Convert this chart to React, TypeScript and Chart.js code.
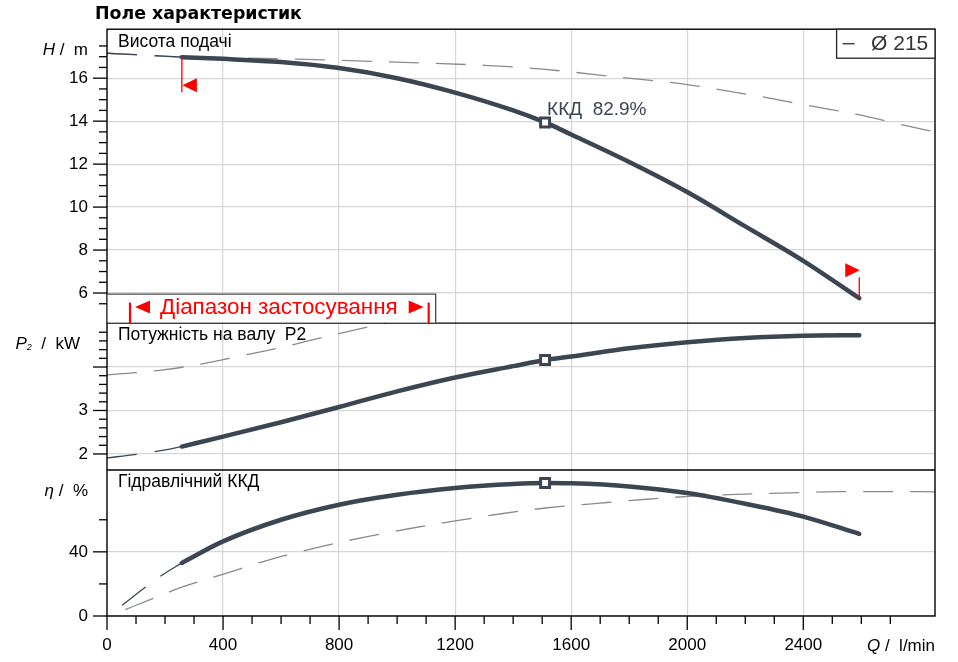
import React, { useEffect, useRef } from 'react';
import { Chart, registerables } from 'chart.js';

Chart.register(...registerables);

const FONT = '"Liberation Sans", Arial, Helvetica, sans-serif';
const TITLE_FONT = '"DejaVu Sans", Verdana, sans-serif';
const CURVE = '#3b4652';
const DASH_GRAY = '#8a8a8a';
const GRID = '#d6d6d6';
const RED = '#ff0000';

// ---- main operating curve (thick) ----
const Q_MAIN = [258, 400, 600, 800, 1000, 1200, 1400, 1510, 1600, 1800, 2000, 2200, 2400, 2593];
const H_MAIN = [16.98, 16.9, 16.75, 16.47, 16.0, 15.33, 14.5, 13.94, 13.38, 12.1, 10.7, 9.1, 7.5, 5.76];
const P_MAIN = [2.17, 2.4, 2.73, 3.08, 3.44, 3.76, 4.02, 4.16, 4.24, 4.43, 4.57, 4.67, 4.72, 4.73];
const ETA_MAIN = [33.1, 46.5, 60.0, 69.4, 75.6, 79.8, 82.3, 82.9, 82.7, 80.8, 76.7, 70.0, 62.0, 51.2];

// ---- thin extensions of the main curve at low flow ----
const Q_H_EXT = [0, 130, 258];
const H_EXT = [17.16, 17.08, 16.98];
const Q_P_EXT = [0, 100, 180, 258];
const P_EXT = [1.91, 1.99, 2.07, 2.17];
const Q_ETA_EXT = [52, 132, 184, 258];
const ETA_EXT = [6.7, 17.9, 24.8, 33.1];

// ---- grey dashed curves ----
const Q_H_ALT = [0, 258, 500, 800, 1100, 1300, 1500, 1750, 2000, 2250, 2420, 2590, 2750, 2855];
const H_ALT = [17.16, 16.98, 16.93, 16.83, 16.7, 16.6, 16.42, 16.07, 15.7, 15.15, 14.72, 14.3, 13.8, 13.5];
const Q_P_ALT = [0, 100, 200, 300, 400, 500, 600, 700, 800, 900, 1000];
const P_ALT = [3.82, 3.87, 3.94, 4.04, 4.17, 4.31, 4.45, 4.61, 4.77, 4.92, 5.06];
const Q_ETA_ALT = [63, 155, 260, 410, 550, 720, 880, 1040, 1200, 1365, 1520, 1700, 1860, 2020, 2200, 2360, 2520, 2700, 2855];
const ETA_ALT = [4.0, 10.7, 18.1, 26.6, 34.6, 42.5, 48.9, 54.4, 59.3, 63.9, 67.5, 70.4, 72.8, 74.7, 76.0, 76.8, 77.5, 77.6, 77.4];

// ---- best efficiency point ----
const BEP_Q = 1510;
const BEP_H = 13.94;
const BEP_P = 4.16;
const BEP_ETA = 82.9;
const BEP_TEXT = 'ККД  82.9%';

// ---- axes ----
const Q_RANGE = [0, 2854];
const H_RANGE = [4.6, 18.28];
const P_RANGE = [1.63, 5.01];
const ETA_RANGE = [0, 91];
const Q_STEP = 100;
const H_STEP = 0.5;
const P_STEP = 0.2;
const ETA_STEP = 20;
const Q_MAJOR = [0, 400, 800, 1200, 1600, 2000, 2400, 2800];
const Q_LABELS = [0, 400, 800, 1200, 1600, 2000, 2400];
const H_MAJOR = [6, 8, 10, 12, 14, 16, 18];
const H_LABELS = [6, 8, 10, 12, 14, 16];
const P_MAJOR = [2, 3, 4];
const P_LABELS = [2, 3];
const ETA_MAJOR = [0, 40, 80];
const ETA_LABELS = [0, 40];

// ---- texts ----
const TITLE = 'Поле характеристик';
const PANEL_H = 'Висота подачі';
const PANEL_P = 'Потужність на валу  P2';
const PANEL_ETA = 'Гідравлічний ККД';
const RANGE_TEXT = 'Діапазон застосування';
const LEGEND_TEXT = 'Ø 215';

const near = (list: number[], v: number) => list.some((m) => Math.abs(m - v) < 1e-6);
const onStep = (v: number, step: number) => Math.abs(v / step - Math.round(v / step)) < 1e-6;
const pts = (q: number[], v: number[]) => q.map((x, i) => ({ x, y: v[i] }));

const mainStyle = {
  borderColor: CURVE,
  borderWidth: 4.5,
  pointRadius: 0,
  cubicInterpolationMode: 'monotone' as const,
  borderCapStyle: 'round' as const,
  fill: false,
  order: 1,
};
const extStyle = {
  borderColor: CURVE,
  borderWidth: 1.3,
  borderDash: [30, 18],
  pointRadius: 0,
  cubicInterpolationMode: 'monotone' as const,
  fill: false,
  order: 2,
};
const altStyle = {
  borderColor: DASH_GRAY,
  borderWidth: 1.3,
  borderDash: [30, 17],
  pointRadius: 0,
  cubicInterpolationMode: 'monotone' as const,
  fill: false,
  order: 3,
};
const bepStyle = {
  showLine: false,
  pointStyle: 'rect' as const,
  pointRadius: 6.3,
  pointBorderWidth: 3,
  pointBorderColor: CURVE,
  pointBackgroundColor: '#ffffff',
  order: 0,
};

const panelClip = {
  id: 'panelClip',
  beforeDatasetDraw(chart: any, args: any) {
    const ys = chart.scales[args.meta.yAxisID];
    const ca = chart.chartArea;
    const ctx = chart.ctx;
    ctx.save();
    ctx.beginPath();
    ctx.rect(ca.left, ys.top, ca.right - ca.left, ys.bottom - ys.top);
    ctx.clip();
  },
  afterDatasetDraw(chart: any) {
    chart.ctx.restore();
  },
};

function seg(ctx: CanvasRenderingContext2D, x1: number, y1: number, x2: number, y2: number) {
  ctx.beginPath();
  ctx.moveTo(x1, y1);
  ctx.lineTo(x2, y2);
  ctx.stroke();
}

type Piece = { t: string; font: string; dy?: number };
function drawPieces(ctx: CanvasRenderingContext2D, pieces: Piece[], xRight: number, y: number) {
  let total = 0;
  pieces.forEach((p) => {
    ctx.font = p.font;
    total += ctx.measureText(p.t).width;
  });
  let x = xRight - total;
  ctx.textAlign = 'left';
  ctx.textBaseline = 'alphabetic';
  pieces.forEach((p) => {
    ctx.font = p.font;
    ctx.fillText(p.t, x, y + (p.dy || 0));
    x += ctx.measureText(p.t).width;
  });
}

const overlay = {
  id: 'overlay',
  afterDraw(chart: any) {
    const { ctx, chartArea: ca, scales } = chart;
    const sx = scales.x;
    const yH = scales.yH;
    const yP = scales.yP;
    const yE = scales.yE;
    ctx.save();

    // frame & panel separators
    ctx.strokeStyle = '#000';
    ctx.lineWidth = 1.4;
    ctx.strokeRect(ca.left, ca.top, ca.right - ca.left, ca.bottom - ca.top);
    seg(ctx, ca.left, yP.top, ca.right, yP.top);
    seg(ctx, ca.left, yE.top, ca.right, yE.top);

    // tick marks
    ctx.lineWidth = 1.3;
    const yTicks = (s: any, major: number[]) => {
      s.ticks.forEach((t: any) => {
        const py = s.getPixelForValue(t.value);
        const len = near(major, t.value) ? 14 : 8;
        seg(ctx, ca.left - len, py, ca.left, py);
      });
    };
    yTicks(yH, H_MAJOR);
    yTicks(yP, P_MAJOR);
    yTicks(yE, ETA_MAJOR);
    sx.ticks.forEach((t: any) => {
      const px = sx.getPixelForValue(t.value);
      const len = near(Q_MAJOR, t.value) ? 14 : 8;
      seg(ctx, px, ca.bottom, px, ca.bottom + len);
    });

    // title
    ctx.fillStyle = '#000';
    ctx.font = `bold 17.4px ${TITLE_FONT}`;
    ctx.textAlign = 'left';
    ctx.textBaseline = 'alphabetic';
    ctx.fillText(TITLE, 95, 18.5);

    // axis titles
    const it = `italic 17px ${FONT}`;
    const nf = `17px ${FONT}`;
    drawPieces(ctx, [{ t: 'H', font: it }, { t: ' /  m', font: nf }], ca.left - 19, yH.top + 26);
    drawPieces(
      ctx,
      [{ t: 'P', font: it }, { t: '2', font: `italic 9px ${FONT}`, dy: 1 }, { t: '  /  kW', font: nf }],
      ca.left - 27,
      yP.top + 26
    );
    drawPieces(ctx, [{ t: 'η', font: it }, { t: ' /  %', font: nf }], ca.left - 19, yE.top + 26);
    drawPieces(ctx, [{ t: 'Q', font: it }, { t: ' /  l/min', font: nf }], ca.right, ca.bottom + 35);

    // panel titles
    ctx.font = `17.5px ${FONT}`;
    ctx.textBaseline = 'middle';
    ctx.fillStyle = '#000';
    ctx.fillText(PANEL_H, ca.left + 11, yH.top + 12.5);
    ctx.fillText(PANEL_P, ca.left + 11, yP.top + 12.5);
    ctx.fillText(PANEL_ETA, ca.left + 11, yE.top + 12.5);

    // BEP label
    const bx = sx.getPixelForValue(BEP_Q);
    const by = yH.getPixelForValue(BEP_H);
    ctx.font = `19px ${FONT}`;
    ctx.fillStyle = CURVE;
    ctx.fillText(BEP_TEXT, bx + 2, by - 12.5);

    // operating range markers on the head curve
    ctx.strokeStyle = RED;
    ctx.fillStyle = RED;
    ctx.lineWidth = 1.3;
    const x0 = sx.getPixelForValue(Q_MAIN[0]);
    const y0 = yH.getPixelForValue(H_MAIN[0]);
    seg(ctx, x0, y0, x0, y0 + 35);
    ctx.beginPath();
    ctx.moveTo(x0 + 0.5, y0 + 28);
    ctx.lineTo(x0 + 15, y0 + 21);
    ctx.lineTo(x0 + 15, y0 + 35);
    ctx.closePath();
    ctx.fill();
    const n = Q_MAIN.length - 1;
    const x1 = sx.getPixelForValue(Q_MAIN[n]);
    const y1 = yH.getPixelForValue(H_MAIN[n]);
    seg(ctx, x1, y1, x1, y1 - 21);
    ctx.beginPath();
    ctx.moveTo(x1 - 14, y1 - 35);
    ctx.lineTo(x1 + 0.5, y1 - 28);
    ctx.lineTo(x1 - 14, y1 - 21);
    ctx.closePath();
    ctx.fill();

    // application range box
    ctx.font = `22.4px ${FONT}`;
    const tw = ctx.measureText(RANGE_TEXT).width;
    const bTop = yP.top - 29;
    const bBot = yP.top;
    const cy = bTop + 13;
    const tx = ca.left + 53;
    const tri2 = tx + tw + 11;
    const bar2 = tri2 + 20;
    const bRight = bar2 + 7;
    ctx.fillStyle = '#fff';
    ctx.fillRect(ca.left + 0.7, bTop, bRight - ca.left - 0.7, bBot - bTop - 0.7);
    ctx.strokeStyle = '#4a4a4a';
    ctx.lineWidth = 1.3;
    ctx.beginPath();
    ctx.moveTo(ca.left, bTop);
    ctx.lineTo(bRight, bTop);
    ctx.lineTo(bRight, bBot);
    ctx.stroke();
    ctx.strokeStyle = RED;
    ctx.fillStyle = RED;
    ctx.lineWidth = 2.2;
    seg(ctx, ca.left + 23, bTop + 8.5, ca.left + 23, bBot);
    seg(ctx, bar2, bTop + 8.5, bar2, bBot);
    ctx.beginPath();
    ctx.moveTo(ca.left + 28, cy);
    ctx.lineTo(ca.left + 43, cy - 6.5);
    ctx.lineTo(ca.left + 43, cy + 6.5);
    ctx.closePath();
    ctx.fill();
    ctx.beginPath();
    ctx.moveTo(tri2, cy - 6.5);
    ctx.lineTo(tri2 + 15, cy);
    ctx.lineTo(tri2, cy + 6.5);
    ctx.closePath();
    ctx.fill();
    ctx.textBaseline = 'middle';
    ctx.fillText(RANGE_TEXT, tx, cy + 1);

    // legend box
    ctx.font = `21px ${FONT}`;
    const lw = ctx.measureText(LEGEND_TEXT).width;
    const lr = ca.right - 6.7;
    const ll = lr - lw;
    const boxL = ll - 34.5;
    ctx.fillStyle = '#fff';
    ctx.fillRect(boxL, ca.top, ca.right - boxL, 29);
    ctx.strokeStyle = '#222';
    ctx.lineWidth = 1.3;
    ctx.strokeRect(boxL, ca.top, ca.right - boxL, 29);
    ctx.strokeStyle = '#444';
    ctx.lineWidth = 1.5;
    seg(ctx, ll - 28.5, ca.top + 14.5, ll - 16.5, ca.top + 14.5);
    ctx.fillStyle = '#333';
    ctx.textBaseline = 'middle';
    ctx.fillText(LEGEND_TEXT, ll, ca.top + 15);

    ctx.restore();
  },
};

const tickFont = { family: FONT, size: 17 };

function yScale(range: number[], step: number, major: number[], labels: number[], weight: number) {
  return {
    type: 'linear' as const,
    position: 'left' as const,
    stack: 'panels',
    stackWeight: weight,
    min: range[0],
    max: range[1],
    afterBuildTicks: (s: any) => {
      s.ticks = s.ticks.filter((t: any) => onStep(t.value, step));
    },
    afterFit: (s: any) => {
      s.width = 107;
    },
    ticks: {
      stepSize: step,
      autoSkip: false,
      padding: 19,
      font: tickFont,
      color: '#000',
      callback: (v: any) => (near(labels, Number(v)) ? String(v) : ''),
    },
    grid: {
      drawTicks: false,
      lineWidth: 1.2,
      color: (c: any) => (c.tick && near(major, c.tick.value) ? GRID : 'rgba(0,0,0,0)'),
    },
    border: { display: false },
  };
}

export default function App() {
  const ref = useRef<HTMLCanvasElement>(null);

  useEffect(() => {
    if (!ref.current) return;
    const chart = new Chart(ref.current, {
      type: 'line',
      data: {
        datasets: [
          { ...bepStyle, data: [{ x: BEP_Q, y: BEP_H }], yAxisID: 'yH' },
          { ...bepStyle, data: [{ x: BEP_Q, y: BEP_P }], yAxisID: 'yP' },
          { ...bepStyle, data: [{ x: BEP_Q, y: BEP_ETA }], yAxisID: 'yE' },
          { ...mainStyle, data: pts(Q_MAIN, H_MAIN), yAxisID: 'yH' },
          { ...mainStyle, data: pts(Q_MAIN, P_MAIN), yAxisID: 'yP' },
          { ...mainStyle, data: pts(Q_MAIN, ETA_MAIN), yAxisID: 'yE' },
          { ...extStyle, data: pts(Q_H_EXT, H_EXT), yAxisID: 'yH' },
          { ...extStyle, data: pts(Q_P_EXT, P_EXT), yAxisID: 'yP' },
          { ...extStyle, data: pts(Q_ETA_EXT, ETA_EXT), yAxisID: 'yE' },
          { ...altStyle, data: pts(Q_H_ALT, H_ALT), yAxisID: 'yH' },
          { ...altStyle, data: pts(Q_P_ALT, P_ALT), yAxisID: 'yP' },
          { ...altStyle, data: pts(Q_ETA_ALT, ETA_ALT), yAxisID: 'yE' },
        ] as any,
      },
      options: {
        animation: false,
        responsive: false,
        maintainAspectRatio: false,
        events: [],
        layout: { padding: { top: 29, right: 23, left: 0, bottom: 0 } },
        plugins: { legend: { display: false }, tooltip: { enabled: false }, title: { display: false } },
        scales: {
          x: {
            type: 'linear',
            min: Q_RANGE[0],
            max: Q_RANGE[1],
            afterBuildTicks: (s: any) => {
              s.ticks = s.ticks.filter((t: any) => onStep(t.value, Q_STEP));
            },
            afterFit: (s: any) => {
              s.height = 46;
            },
            ticks: {
              stepSize: Q_STEP,
              autoSkip: false,
              maxRotation: 0,
              padding: 19,
              font: tickFont,
              color: '#000',
              callback: (v: any) => (near(Q_LABELS, Number(v)) ? String(v) : ''),
            },
            grid: {
              drawTicks: false,
              lineWidth: 1.2,
              color: (c: any) =>
                c.tick && c.tick.value > 0 && near(Q_MAJOR, c.tick.value) ? GRID : 'rgba(0,0,0,0)',
            },
            border: { display: false },
          },
          yE: yScale(ETA_RANGE, ETA_STEP, ETA_MAJOR, ETA_LABELS, 146),
          yP: yScale(P_RANGE, P_STEP, P_MAJOR, P_LABELS, 147),
          yH: yScale(H_RANGE, H_STEP, H_MAJOR, H_LABELS, 294),
        } as any,
      },
      plugins: [panelClip, overlay],
    });
    return () => chart.destroy();
  }, []);

  return (
    <div style={{ position: 'absolute', left: 0, top: 0, width: 958, height: 662, background: '#fff' }}>
      <canvas ref={ref} width={958} height={662} style={{ display: 'block', width: 958, height: 662 }} />
    </div>
  );
}
